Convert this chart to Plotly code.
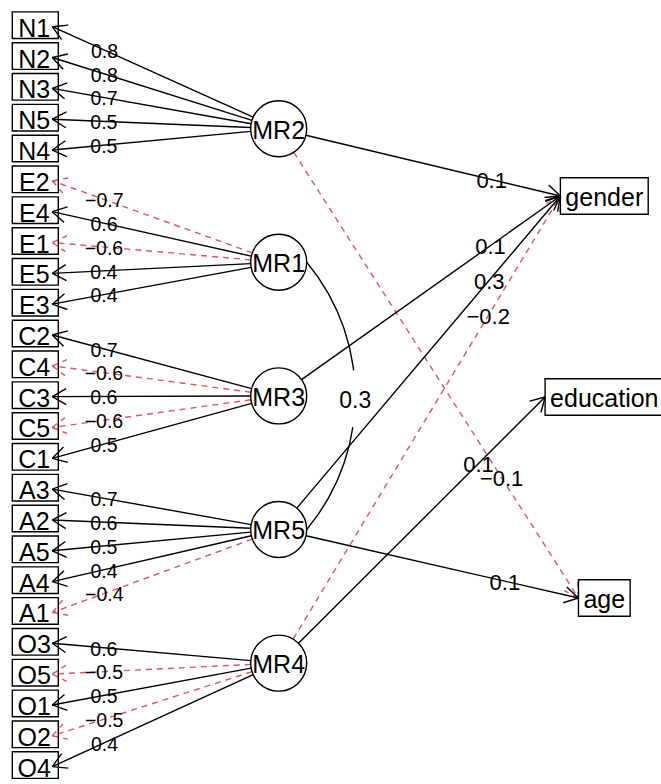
import numpy as np
import plotly.graph_objects as go

# ---------------- data ----------------
variables = ["N1", "N2", "N3", "N5", "N4", "E2", "E4", "E1", "E5", "E3",
             "C2", "C4", "C3", "C5", "C1", "A3", "A2", "A5", "A4", "A1",
             "O3", "O5", "O1", "O2", "O4"]
factors = ["MR2", "MR1", "MR3", "MR5", "MR4"]

mr2_items = ["N1", "N2", "N3", "N5", "N4"]
mr2_loadings = [0.8, 0.8, 0.7, 0.5, 0.5]
mr1_items = ["E2", "E4", "E1", "E5", "E3"]
mr1_loadings = [-0.7, 0.6, -0.6, 0.4, 0.4]
mr3_items = ["C2", "C4", "C3", "C5", "C1"]
mr3_loadings = [0.7, -0.6, 0.6, -0.6, 0.5]
mr5_items = ["A3", "A2", "A5", "A4", "A1"]
mr5_loadings = [0.7, 0.6, 0.5, 0.4, -0.4]
mr4_items = ["O3", "O5", "O1", "O2", "O4"]
mr4_loadings = [0.6, -0.5, 0.5, -0.5, 0.4]

criteria = ["gender", "education", "age"]
reg_from = ["MR2", "MR3", "MR5", "MR4", "MR4", "MR2", "MR5"]
reg_to = ["gender", "gender", "gender", "gender", "education", "age", "age"]
reg_values = [0.1, 0.1, 0.3, -0.2, 0.1, -0.1, 0.1]

cor_from = "MR1"
cor_to = "MR5"
cor_value = 0.3

# ---------------- layout settings ----------------
W, H = 661, 784
FONT = "Liberation Sans, Arial, Helvetica, sans-serif"
POS_COL = "black"
NEG_COL = "#DF536B"
LW = 1.4
DASH = "6px,5px"

VAR_Y0, VAR_DY = 26.7, 30.83
BOX_L, BOX_R, TIP_X = 12.3, 58.3, 52.3
BOX_UP, BOX_DN = 14.8, 11.8
F_X, F_Y0, F_R = 278.7, 128.7, 28.0
F_DY = VAR_DY * (len(variables) + 1) / (len(factors) + 1)
C_X, C_Y0, C_DY, C_HH, C_PAD = 604.3, 196.0, 201.0, 18.3, 5.0
ARROW_L, ARROW_ANG = 16.0, np.radians(30)
LOAD_T, REG_T = 0.74, 0.73
CURVE_BULGE, CURVE_GAP = 0.363, 27.0
TEXT_DROP = 0.15   # em offset so that cap centre sits on the anchor

# Helvetica advance widths (em) for box sizing
ADV = {"a": .556, "c": .5, "d": .556, "e": .556, "g": .556, "i": .222,
       "n": .556, "o": .556, "r": .333, "t": .278, "u": .556}

def text_w(s, size):
    return sum(ADV.get(ch, .556) for ch in s) * size

def fmt(v):
    return f"{v:.1f}".replace("-", "\u2212")

var_y = {v: VAR_Y0 + i * VAR_DY for i, v in enumerate(variables)}
fac_y = {f: F_Y0 + j * F_DY for j, f in enumerate(factors)}
crit_y = {c: C_Y0 + k * C_DY for k, c in enumerate(criteria)}

loadings = {
    "MR2": (mr2_items, mr2_loadings),
    "MR1": (mr1_items, mr1_loadings),
    "MR3": (mr3_items, mr3_loadings),
    "MR5": (mr5_items, mr5_loadings),
    "MR4": (mr4_items, mr4_loadings),
}

segs = {True: ([], []), False: ([], [])}   # positive -> solid black, negative -> dashed red
labels_left = ([], [], [])
labels_right = ([], [], [])


def add_seg(pos, p, q):
    xs, ys = segs[pos]
    xs += [p[0], q[0], None]
    ys += [p[1], q[1], None]


def add_arrow(pos, center, tip, labels, val, t):
    c = np.array(center, float)
    tp = np.array(tip, float)
    u = (tp - c) / np.linalg.norm(tp - c)
    start = c + u * F_R
    add_seg(pos, start, tp)
    for s in (1, -1):
        a = s * ARROW_ANG
        rot = np.array([[np.cos(a), -np.sin(a)], [np.sin(a), np.cos(a)]])
        arm = tp - ARROW_L * (rot @ u)
        add_seg(pos, tp, arm)
    lp = start + t * (tp - start)
    labels[0].append(lp[0]); labels[1].append(lp[1]); labels[2].append(fmt(val))


for f, (items, vals) in loadings.items():
    for it, v in zip(items, vals):
        add_arrow(v >= 0, (F_X, fac_y[f]), (TIP_X, var_y[it]), labels_left, v, LOAD_T)

crit_half = {c: text_w(c, 25) / 2 + C_PAD for c in criteria}
for f, c, v in zip(reg_from, reg_to, reg_values):
    add_arrow(v >= 0, (F_X, fac_y[f]), (C_X - crit_half[c], crit_y[c]), labels_right, v, REG_T)

fig = go.Figure()

for pos in (False, True):
    xs, ys = segs[pos]
    fig.add_trace(go.Scatter(
        x=xs, y=ys, mode="lines", hoverinfo="skip", showlegend=False,
        line=dict(color=POS_COL if pos else NEG_COL, width=LW,
                  dash="solid" if pos else DASH)))

# correlation curve (circular arc with a gap for the label)
ya, yb = fac_y[cor_from], fac_y[cor_to]
xa = F_X + F_R
h = (yb - ya) / 2
ymid = (ya + yb) / 2
d = CURVE_BULGE * h
R = (h * h + d * d) / (2 * d)
cx = xa + d - R
phi = np.arcsin(h / R)
ang = np.linspace(-phi, phi, 200)
ax = cx + R * np.cos(ang)
ay = ymid + R * np.sin(ang)
upper = ay < ymid + 3 - CURVE_GAP
lower = ay > ymid + 3 + CURVE_GAP
cxs = list(ax[upper]) + [None] + list(ax[lower])
cys = list(ay[upper]) + [None] + list(ay[lower])
fig.add_trace(go.Scatter(x=cxs, y=cys, mode="lines", hoverinfo="skip",
                         showlegend=False, line=dict(color="black", width=LW)))

# variable boxes
for v in variables:
    y = var_y[v]
    fig.add_shape(type="rect", xref="x", yref="y", x0=BOX_L, x1=BOX_R,
                  y0=y - BOX_UP, y1=y + BOX_DN, line=dict(color="black", width=LW))
# factor circles
for f in factors:
    y = fac_y[f]
    fig.add_shape(type="circle", xref="x", yref="y", x0=F_X - F_R, x1=F_X + F_R,
                  y0=y - F_R, y1=y + F_R, line=dict(color="black", width=LW))
# criterion boxes
for c in criteria:
    y = crit_y[c]
    fig.add_shape(type="rect", xref="x", yref="y", x0=C_X - crit_half[c],
                  x1=C_X + crit_half[c], y0=y - C_HH, y1=y + C_HH,
                  line=dict(color="black", width=LW))

def add_text(xs, ys, txt, size):
    ys = [y + TEXT_DROP * size for y in ys]
    fig.add_trace(go.Scatter(x=xs, y=ys, text=txt, mode="text",
                             textposition="middle center", hoverinfo="skip",
                             showlegend=False,
                             textfont=dict(family=FONT, size=size, color="black")))

add_text([(BOX_L + BOX_R) / 2 - 1] * len(variables), [var_y[v] for v in variables], variables, 25)
add_text([F_X] * len(factors), [fac_y[f] for f in factors], factors, 25)
add_text([C_X] * len(criteria), [crit_y[c] for c in criteria], criteria, 25)
add_text(labels_left[0], labels_left[1], labels_left[2], 19.5)
add_text(labels_right[0], labels_right[1], labels_right[2], 22)
add_text([cx + R], [ymid + 3], [fmt(cor_value)], 23)

fig.update_layout(
    width=W, height=H, margin=dict(l=0, r=0, t=0, b=0, pad=0),
    paper_bgcolor="white", plot_bgcolor="white",
    xaxis=dict(range=[0, W], visible=False, showgrid=False, zeroline=False, fixedrange=True),
    yaxis=dict(range=[H, 0], visible=False, showgrid=False, zeroline=False, fixedrange=True),
)

fig.write_html("out.html", config={"displayModeBar": False},
               post_script="document.body.style.margin='0';document.body.style.overflow='hidden';")
